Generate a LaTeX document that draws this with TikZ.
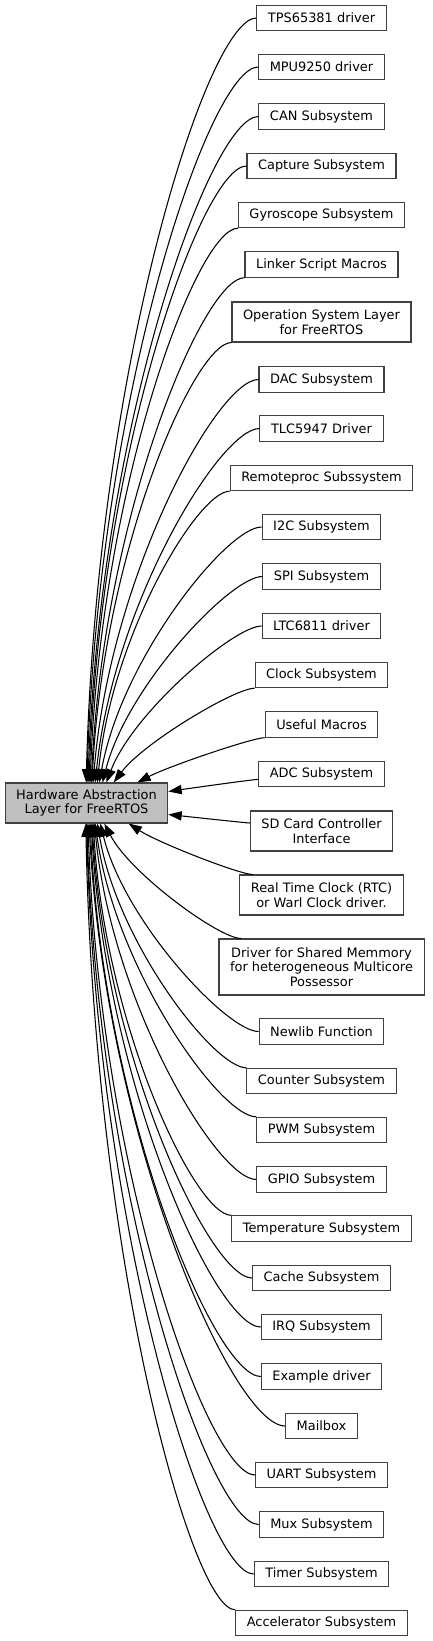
\documentclass[tikz,border=0pt]{standalone}
\usepackage{fontspec}
\setmainfont{DejaVu Sans}
\usetikzlibrary{arrows.meta,calc}

\tikzset{
  grp/.style={draw=black!75, line width=0.8pt, inner xsep=8.3pt, inner ysep=0pt,
    minimum height=19pt, align=center},
  cur/.style={grp, fill=black!25, minimum height=30pt},
  dep/.style={draw, line width=0.8pt, -{Triangle[length=10pt,width=7pt]},
    to path={let \p1=(\tikztostart), \p2=(\tikztotarget),
      \n1={abs(\x1-\x2)/(abs(\x1-\x2)+abs(\y1-\y2))} in
      .. controls ({\x1+0.35*(1-\n1)*(\x2-\x1)},\y1)
         and ({\x2+0.35*\n1*(\x1-\x2)},{\y2+(0.6-0.3*\n1)*(\y1-\y2)}) .. (\tikztotarget)}}
}

\begin{document}
\begin{tikzpicture}[x=0.75pt, y=-0.75pt, font=\fontsize{9.7}{11}\selectfont]

      \useasboundingbox (0,0) rectangle (432,1641);

      % 中心のグループ
      \node[cur] (hal) at (86.5,803) {Hardware Abstraction\\Layer for FreeRTOS};

      % 上側のサブグループ
      \node[grp] (tps) at (321.5,18) {TPS65381 driver};
      \node[grp] (mpu) at (321.5,67) {MPU9250 driver};
      \node[grp] (can) at (321.5,116.5) {CAN Subsystem};
      \node[grp] (capture) at (321.5,166) {Capture Subsystem};
      \node[grp] (gyro) at (321.5,215) {Gyroscope Subsystem};
      \node[grp] (linker) at (321.5,264.5) {Linker Script Macros};
      \node[grp, minimum height=30pt] (osal) at (321.5,322) {Operation System Layer\\for FreeRTOS};
      \node[grp] (dac) at (321.5,379.5) {DAC Subsystem};
      \node[grp] (tlc) at (321.5,428.5) {TLC5947 Driver};
      \node[grp] (rproc) at (321.5,478) {Remoteproc Subssystem};
      \node[grp] (i2c) at (321.5,527) {I2C Subsystem};
      \node[grp] (spi) at (321.5,576.5) {SPI Subsystem};
      \node[grp] (ltc) at (321.5,626) {LTC6811 driver};
      \node[grp] (clock) at (321.5,675) {Clock Subsystem};
      \node[grp] (macros) at (321.5,724.5) {Useful Macros};

      % 横のサブグループ
      \node[grp] (adc) at (321.5,774) {ADC Subsystem};
      \node[grp, minimum height=30pt] (sdcard) at (321.5,831) {SD Card Controller\\Interface};

      % 下側のサブグループ
      \node[grp, minimum height=30pt] (rtc) at (321.5,895) {Real Time Clock (RTC)\\or Warl Clock driver.};
      \node[grp, minimum height=42pt] (shmem) at (321.5,967) {Driver for Shared Memmory\\for heterogeneous Multicore\\Possessor};
      \node[grp] (newlib) at (321.5,1031.5) {Newlib Function};
      \node[grp] (counter) at (321.5,1081) {Counter Subsystem};
      \node[grp] (pwm) at (321.5,1130) {PWM Subsystem};
      \node[grp] (gpio) at (321.5,1179.5) {GPIO Subsystem};
      \node[grp] (temp) at (321.5,1228.5) {Temperature Subsystem};
      \node[grp] (cache) at (321.5,1278) {Cache Subsystem};
      \node[grp] (irq) at (321.5,1327) {IRQ Subsystem};
      \node[grp] (example) at (321.5,1376.5) {Example driver};
      \node[grp] (mailbox) at (321.5,1426) {Mailbox};
      \node[grp] (uart) at (321.5,1475) {UART Subsystem};
      \node[grp] (mux) at (321.5,1524.5) {Mux Subsystem};
      \node[grp] (timer) at (321.5,1574) {Timer Subsystem};
      \node[grp] (accel) at (321.5,1623) {Accelerator Subsystem};

      % 上からの矢印
      \draw[dep] (tps.west) to (hal.91);
      \draw[dep] (mpu.west) to (hal.89);
      \draw[dep] (can.west) to (hal.86);
      \draw[dep] (capture.west) to (hal.83);
      \draw[dep] (gyro.south west) to (hal.80);
      \draw[dep] (linker.south west) to (hal.77);
      \draw[dep] (osal.south west) to (hal.75);
      \draw[dep] (dac.west) to (hal.72);
      \draw[dep] (tlc.west) to (hal.67);
      \draw[dep] (rproc.south west) to (hal.62);
      \draw[dep] (i2c.west) to (hal.58);
      \draw[dep] (spi.west) to (hal.52);
      \draw[dep] (ltc.west) to (hal.46);
      \draw[dep] (clock.south west) to (hal.37);
      \draw[dep] (macros.south west) to (hal.22);

      % 横からの矢印
      \draw[dep] ([yshift=-4pt]adc.west) to (hal.8);
      \draw[dep] ([yshift=6pt]sdcard.west) to (hal.-8);

      % 下からの矢印
      \draw[dep] ([xshift=10pt]rtc.north west) to (hal.-26);
      \draw[dep] ([xshift=17pt]shmem.north west) to (hal.-49);
      \draw[dep] (newlib.west) to (hal.-56);
      \draw[dep] (counter.north west) to (hal.-62);
      \draw[dep] (pwm.north west) to (hal.-67);
      \draw[dep] (gpio.west) to (hal.-69);
      \draw[dep] (temp.north west) to (hal.-72);
      \draw[dep] (cache.west) to (hal.-75);
      \draw[dep] (irq.west) to (hal.-77);
      \draw[dep] (example.west) to (hal.-80);
      \draw[dep] (mailbox.west) to (hal.-83);
      \draw[dep] (uart.west) to (hal.-86);
      \draw[dep] (mux.west) to (hal.-89);
      \draw[dep] (timer.west) to (hal.-90);
      \draw[dep] (accel.north west) to (hal.-92);

    \end{tikzpicture}
\end{document}
